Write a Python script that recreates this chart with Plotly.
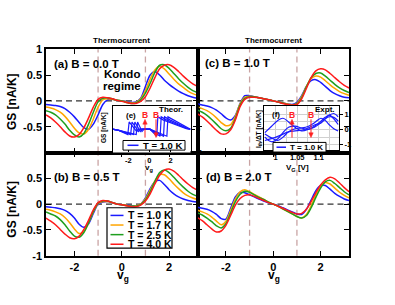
import plotly.graph_objects as go

# ---------------- data ----------------
VG = [-3.2, -3.0, -2.8, -2.6, -2.4, -2.2, -2.0, -1.8, -1.6, -1.4, -1.2, -1.0, -0.8, -0.6, -0.4, -0.2,
      0.0, 0.2, 0.4, 0.6, 0.8, 1.0, 1.2, 1.4, 1.6, 1.8, 2.0, 2.2, 2.4, 2.6, 2.8, 3.0, 3.2]
TEMPS = ["T = 1.0 K", "T = 1.7 K", "T = 2.5 K", "T = 4.0 K"]
COLORS = ["#1a1aff", "#ffa500", "#1f9f1f", "#ff1a1a"]

# panel (a) B = 0.0 T
A_T10 = [-0.07, -0.08, -0.09, -0.11, -0.15, -0.22, -0.31, -0.42, -0.52, -0.55, -0.45, -0.27, -0.07, 0.02, 0.03, 0.01,
         0.00, -0.01, -0.03, -0.02, 0.05, 0.28, 0.50, 0.57, 0.50, 0.40, 0.32, 0.25, 0.19, 0.14, 0.10, 0.07, 0.05]
A_T17 = [-0.12, -0.14, -0.17, -0.22, -0.30, -0.41, -0.53, -0.62, -0.64, -0.55, -0.35, -0.12, 0.02, 0.04, 0.03, 0.01,
         0.00, -0.02, -0.04, -0.03, 0.04, 0.20, 0.42, 0.60, 0.67, 0.62, 0.52, 0.42, 0.33, 0.26, 0.19, 0.14, 0.11]
A_T25 = [-0.19, -0.22, -0.27, -0.35, -0.45, -0.57, -0.66, -0.70, -0.63, -0.45, -0.22, -0.02, 0.05, 0.06, 0.04, 0.01,
         0.00, -0.03, -0.05, -0.04, 0.02, 0.15, 0.34, 0.55, 0.69, 0.70, 0.63, 0.53, 0.43, 0.34, 0.26, 0.20, 0.16]
A_T40 = [-0.27, -0.33, -0.41, -0.50, -0.60, -0.68, -0.70, -0.65, -0.52, -0.33, -0.12, 0.03, 0.07, 0.06, 0.04, 0.01,
         -0.01, -0.03, -0.05, -0.05, -0.01, 0.08, 0.25, 0.45, 0.62, 0.69, 0.70, 0.65, 0.57, 0.48, 0.40, 0.33, 0.28]

# panel (b) B = 0.5 T
B_T10 = [-0.05, -0.06, -0.07, -0.09, -0.12, -0.18, -0.27, -0.39, -0.45, -0.38, -0.18, 0.00, 0.04, 0.05, 0.03, 0.00,
         -0.01, -0.02, -0.03, -0.03, 0.00, 0.12, 0.30, 0.43, 0.46, 0.38, 0.28, 0.20, 0.14, 0.10, 0.07, 0.05, 0.04]
B_T17 = [-0.10, -0.12, -0.15, -0.19, -0.26, -0.36, -0.48, -0.57, -0.53, -0.36, -0.15, 0.01, 0.05, 0.05, 0.03, 0.00,
         -0.01, -0.02, -0.04, -0.03, 0.00, 0.10, 0.27, 0.45, 0.57, 0.57, 0.49, 0.39, 0.30, 0.22, 0.16, 0.12, 0.09]
B_T25 = [-0.15, -0.19, -0.23, -0.30, -0.40, -0.52, -0.62, -0.64, -0.55, -0.36, -0.14, 0.02, 0.06, 0.06, 0.03, 0.00,
         -0.01, -0.03, -0.04, -0.04, -0.01, 0.08, 0.24, 0.44, 0.61, 0.66, 0.61, 0.52, 0.42, 0.33, 0.25, 0.19, 0.15]
B_T40 = [-0.27, -0.33, -0.40, -0.49, -0.58, -0.65, -0.67, -0.62, -0.49, -0.31, -0.11, 0.03, 0.07, 0.06, 0.03, 0.00,
         -0.01, -0.03, -0.05, -0.05, -0.02, 0.06, 0.20, 0.39, 0.56, 0.66, 0.68, 0.64, 0.56, 0.47, 0.39, 0.32, 0.27]

# panel (c) B = 1.0 T
C_T10 = [-0.06, -0.08, -0.10, -0.13, -0.18, -0.25, -0.33, -0.37, -0.28, -0.05, 0.10, 0.10, 0.08, 0.06, 0.04, 0.02,
         0.00, -0.02, -0.04, -0.06, -0.07, -0.03, 0.10, 0.28, 0.39, 0.41, 0.36, 0.28, 0.20, 0.14, 0.10, 0.07, 0.06]
C_T17 = [-0.12, -0.15, -0.19, -0.25, -0.33, -0.42, -0.48, -0.46, -0.30, -0.06, 0.07, 0.09, 0.08, 0.06, 0.04, 0.02,
         0.00, -0.02, -0.04, -0.06, -0.08, -0.05, 0.08, 0.28, 0.43, 0.48, 0.46, 0.39, 0.31, 0.24, 0.18, 0.14, 0.11]
C_T25 = [-0.18, -0.22, -0.28, -0.36, -0.45, -0.54, -0.58, -0.53, -0.34, -0.08, 0.05, 0.08, 0.08, 0.06, 0.04, 0.02,
         0.00, -0.02, -0.04, -0.07, -0.08, -0.06, 0.06, 0.27, 0.45, 0.53, 0.54, 0.48, 0.40, 0.32, 0.25, 0.20, 0.16]
C_T40 = [-0.25, -0.31, -0.39, -0.48, -0.57, -0.64, -0.64, -0.56, -0.37, -0.11, 0.03, 0.07, 0.07, 0.06, 0.04, 0.02,
         0.00, -0.02, -0.05, -0.07, -0.08, -0.07, 0.04, 0.24, 0.45, 0.58, 0.62, 0.60, 0.53, 0.45, 0.37, 0.30, 0.25]

# panel (d) B = 2.0 T
D_T10 = [-0.06, -0.08, -0.10, -0.14, -0.20, -0.28, -0.29, -0.08, 0.14, 0.23, 0.22, 0.18, 0.14, 0.10, 0.06, 0.03,
         0.00, -0.03, -0.07, -0.11, -0.15, -0.19, -0.20, -0.10, 0.08, 0.26, 0.36, 0.36, 0.29, 0.21, 0.15, 0.10, 0.07]
D_T17 = [-0.12, -0.15, -0.19, -0.25, -0.33, -0.40, -0.33, -0.12, 0.10, 0.24, 0.28, 0.24, 0.19, 0.14, 0.09, 0.04,
         0.00, -0.04, -0.09, -0.14, -0.19, -0.24, -0.27, -0.20, -0.03, 0.18, 0.34, 0.42, 0.39, 0.31, 0.23, 0.17, 0.12]
D_T25 = [-0.17, -0.21, -0.27, -0.34, -0.42, -0.46, -0.38, -0.17, 0.05, 0.19, 0.25, 0.23, 0.18, 0.13, 0.09, 0.04,
         0.00, -0.04, -0.09, -0.14, -0.19, -0.24, -0.27, -0.22, -0.07, 0.13, 0.31, 0.43, 0.46, 0.40, 0.32, 0.24, 0.18]
D_T40 = [-0.26, -0.32, -0.40, -0.48, -0.54, -0.52, -0.41, -0.22, -0.02, 0.11, 0.17, 0.18, 0.15, 0.11, 0.07, 0.03,
         0.00, -0.04, -0.08, -0.12, -0.16, -0.19, -0.18, -0.10, 0.05, 0.22, 0.37, 0.47, 0.52, 0.49, 0.41, 0.32, 0.24]

# inset (e) theory, T = 1.0 K, several fields
E_Y = [0.0, -0.05, -0.23, 0.31, -0.1, 0.0, 0.0, -0.3, 0.53, 0.4, 0.02, 0.0]
E_X1 = [-3.5, -2.9, -2.05, -1.92, -1.2, -1.0, 0.05, 0.7, 0.8, 1.3, 3.5, 3.9]
E_X2 = [-3.5, -2.9, -1.78, -1.65, -1.03, -0.83, 0.05, 1.02, 1.12, 1.62, 3.6, 3.9]
E_X3 = [-3.5, -2.9, -1.51, -1.38, -0.86, -0.66, 0.05, 1.34, 1.44, 1.94, 3.7, 3.9]
E_X4 = [-3.5, -2.9, -1.25, -1.12, -0.7, -0.5, 0.05, 1.66, 1.76, 2.26, 3.8, 3.9]

# inset (f) experiment, T = 1.0 K
F_X = [0.975, 0.99, 1.005, 1.017, 1.03, 1.045, 1.06, 1.075, 1.09, 1.105, 1.115, 1.125, 1.135, 1.145]
F_Y1 = [-0.2, 0.2, 0.6, 0.74, 0.5, 0.15, -0.09, 0.0, 0.22, 0.55, 0.8, 0.95, 0.7, 0.33]
F_Y2 = [-0.5, -0.8, -0.6, -0.2, 0.15, 0.22, 0.1, 0.01, 0.15, 0.45, 0.7, 0.84, 0.8, 0.56]
F_Y3 = [-0.3, -0.55, -0.72, -0.5, -0.15, 0.05, 0.1, 0.2, 0.45, 0.74, 0.6, 0.3, 0.05, -0.1]
F_Y4 = [-0.72, -0.6, -0.45, -0.3, -0.15, -0.09, -0.05, 0.1, 0.3, 0.43, 0.7, 0.95, 1.05, 0.84]

W, H = 395, 305
FONT = "Liberation Sans"


def PX(x):
    return x / W


def PY(y):
    return 1 - y / H


fig = go.Figure()

panels = [("x", "y", [A_T10, A_T17, A_T25, A_T40]),
          ("x2", "y2", [B_T10, B_T17, B_T25, B_T40]),
          ("x3", "y3", [C_T10, C_T17, C_T25, C_T40]),
          ("x4", "y4", [D_T10, D_T17, D_T25, D_T40])]
for xr, yr, series in panels:
    for name, col, ys in zip(TEMPS, COLORS, series):
        fig.add_trace(go.Scatter(x=VG, y=ys, mode="lines", name=name, xaxis=xr, yaxis=yr,
                                 line=dict(color=col, width=1.5, shape="spline", smoothing=0.8),
                                 showlegend=False))

for ex in [E_X1, E_X2, E_X3, E_X4]:
    fig.add_trace(go.Scatter(x=ex, y=E_Y, mode="lines", name="T = 1.0 K", xaxis="x5", yaxis="y5",
                             line=dict(color="#1a1aff", width=1.2), showlegend=False))
for fy in [F_Y1, F_Y2, F_Y3, F_Y4]:
    fig.add_trace(go.Scatter(x=F_X, y=fy, mode="lines", name="T = 1.0 K", xaxis="x6", yaxis="y6",
                             line=dict(color="#1a1aff", width=1.2, shape="spline"), showlegend=False))

L0, MID, R1 = PX(46), PX(197.5), PX(349)
T0, YM, B1 = PY(45), PY(152.5), PY(260)

tickfont = dict(family=FONT, size=11, color="black", weight="bold")
base = dict(showline=True, linecolor="black", linewidth=1.5, mirror="ticks", ticks="inside",
            ticklen=5, tickwidth=1.2, tickcolor="black", showgrid=False, zeroline=False,
            tickfont=tickfont)
xbase = dict(base, range=[-3.2, 3.2], tickvals=[-2, 0, 2], ticktext=["-2", "0", "2"])
fig.update_layout(
    xaxis=dict(xbase, domain=[L0, MID], anchor="y", showticklabels=False),
    yaxis=dict(base, domain=[YM, T0], anchor="x", range=[-1, 1], tickvals=[-0.5, 0, 0.5, 1],
               ticktext=["-0.5", "0", "0.5", "1"]),
    xaxis2=dict(xbase, domain=[L0, MID], anchor="y2"),
    yaxis2=dict(base, domain=[B1, YM], anchor="x2", range=[-1, 1], tickvals=[-1, -0.5, 0, 0.5],
                ticktext=["-1", "-0.5", "0", "0.5"]),
    xaxis3=dict(xbase, domain=[MID, R1], anchor="y3", showticklabels=False),
    yaxis3=dict(base, domain=[YM, T0], anchor="x3", range=[-1, 1], tickvals=[-0.5, 0, 0.5, 1],
                showticklabels=False),
    xaxis4=dict(xbase, domain=[MID, R1], anchor="y4"),
    yaxis4=dict(base, domain=[B1, YM], anchor="x4", range=[-1, 1], tickvals=[-1, -0.5, 0, 0.5],
                showticklabels=False),
)

small = dict(family=FONT, size=7.5, color="black", weight="bold")
inset_base = dict(showline=True, linecolor="black", linewidth=1.2, mirror=True, ticks="inside",
                  ticklen=3, tickwidth=1, tickcolor="black", zeroline=False, tickfont=small)
fig.update_layout(
    xaxis5=dict(inset_base, domain=[PX(112.5), PX(190.5)], anchor="y5", range=[-3.5, 3.9],
                tickvals=[-2, 0, 2], ticktext=["-2", "0", "2"], showgrid=False),
    yaxis5=dict(inset_base, domain=[PY(152.5), PY(104)], anchor="x5", range=[-1, 1], side="right",
                tickvals=[-1, 0, 1], ticktext=["-1", "0", "1"], showgrid=False, ticks="outside"),
    xaxis6=dict(inset_base, domain=[PX(264), PX(339)], anchor="y6", range=[0.973, 1.147],
                tickvals=[1.0, 1.05, 1.1], ticktext=["1", "1.05", "1.1"], showgrid=True,
                gridcolor="#d0d0d0", gridwidth=0.8,
                minor=dict(dtick=0.025, showgrid=True, gridcolor="#d0d0d0", gridwidth=0.8)),
    yaxis6=dict(inset_base, domain=[PY(150), PY(104)], anchor="x6", range=[-1.35, 1.55], side="right",
                tickvals=[-1, 0, 1], ticktext=["-1", "0", "1"], showgrid=True,
                gridcolor="#d0d0d0", gridwidth=0.8, ticks="outside",
                minor=dict(dtick=0.5, showgrid=True, gridcolor="#d0d0d0", gridwidth=0.8)),
)

shapes = []
for xr, yr in [("x", "y"), ("x2", "y2"), ("x3", "y3"), ("x4", "y4"), ("x5", "y5")]:
    for v in (-1, 1):
        shapes.append(dict(type="line", xref=xr, yref=yr + " domain", x0=v, x1=v, y0=0, y1=1,
                           line=dict(color="#c9a3a3", width=1.3, dash="6px,4px"), layer="below"))
    shapes.append(dict(type="line", xref=xr + " domain", yref=yr, x0=0, x1=1, y0=0, y1=0,
                       line=dict(color="#333333", width=1.3, dash="6px,4px"), layer="below"))

# manual legends (boxes and samples)
shapes.append(dict(type="rect", xref="paper", yref="paper", x0=PX(107), x1=PX(172), y0=PY(252), y1=PY(210),
                   line=dict(color="black", width=1.2), fillcolor="white", layer="above"))
LEG_Y = [218, 228, 238, 248]
for ly, col in zip(LEG_Y, COLORS):
    shapes.append(dict(type="line", xref="paper", yref="paper", x0=PX(110.5), x1=PX(123.5), y0=PY(ly), y1=PY(ly),
                       line=dict(color=col, width=1.5), layer="above"))
shapes.append(dict(type="rect", xref="paper", yref="paper", x0=PX(123), x1=PX(185), y0=PY(150), y1=PY(140),
                   line=dict(color="black", width=1), fillcolor="white", layer="above"))
shapes.append(dict(type="line", xref="paper", yref="paper", x0=PX(127.5), x1=PX(138.5), y0=PY(145), y1=PY(145),
                   line=dict(color="#1a1aff", width=1.5), layer="above"))
shapes.append(dict(type="rect", xref="paper", yref="paper", x0=PX(273), x1=PX(326), y0=PY(152), y1=PY(142),
                   line=dict(color="black", width=1), fillcolor="white", layer="above"))
shapes.append(dict(type="line", xref="paper", yref="paper", x0=PX(276.5), x1=PX(286), y0=PY(147), y1=PY(147),
                   line=dict(color="#1a1aff", width=1.5), layer="above"))

# red field arrows (x, head y, tail y) drawn as line + triangular head
RED = "#ff2020"
for (x, yh, yt) in [(145, 118, 137), (156, 137, 118), (292, 118, 137), (311, 137, 118)]:
    sgn = 1 if yt > yh else -1
    shapes.append(dict(type="line", xref="paper", yref="paper", x0=PX(x), x1=PX(x),
                       y0=PY(yt), y1=PY(yh + sgn * 3), line=dict(color=RED, width=1), layer="above"))
    path = "M {:.5f},{:.5f} L {:.5f},{:.5f} L {:.5f},{:.5f} Z".format(
        PX(x), PY(yh), PX(x - 2.2), PY(yh + sgn * 5), PX(x + 2.2), PY(yh + sgn * 5))
    shapes.append(dict(type="path", xref="paper", yref="paper", path=path,
                       fillcolor=RED, line=dict(color=RED, width=0.5), layer="above"))

ann = []


def text(x, y, s, size, xanchor="center", color="black", angle=0, bold=True):
    ann.append(dict(xref="paper", yref="paper", x=PX(x), y=PY(y), text=s, showarrow=False,
                    xanchor=xanchor, yanchor="middle", textangle=angle,
                    font=dict(family=FONT, size=size, color=color, weight="bold" if bold else "normal")))


text(122, 36, "Thermocurrent", 8)
text(273, 36, "Thermocurrent", 8)
text(52, 60, "(a) B = 0.0 T", 11.5, "left")
text(122, 71, "Kondo", 11.5)
text(122, 83, "regime", 11.5)
text(52, 178, "(b) B = 0.5 T", 11.5, "left")
text(203, 59, "(c) B = 1.0 T", 11.5, "left")
text(204, 178, "(d) B = 2.0 T", 11.5, "left")
text(12, 100, "GS [nA/K]", 12, angle=-90)
text(12, 212, "GS [nA/K]", 12, angle=-90)
text(123, 281, "v<sub>g</sub>", 12)
text(274, 281, "v<sub>g</sub>", 12)
for ly, name in zip(LEG_Y, TEMPS):
    text(126, ly, name, 10.5, "left")
# inset e texts
text(124, 114, "(e)", 8, "left")
text(185, 108, "Theor.", 8, "right")
text(141, 145, "T = 1.0 K", 9.5, "left")
text(104, 127, "GS [nA/K]", 6.5, angle=-90)
text(149, 169, "v<sub>g</sub>", 8)
text(145, 113, "B", 8.5, color=RED)
text(156, 113, "B", 8.5, color=RED)
# inset f texts
text(270, 113, "(f)", 8, "left")
text(337, 108, "Expt.", 8, "right")
text(288, 147, "T = 1.0 K", 8, "left")
text(259, 128, "I<sub>th</sub>/ΔT [nA/K]", 6.5, angle=-90)
text(297, 169, "V<sub>G</sub> [V]", 8)
text(292, 113, "B", 8.5, color=RED)
text(311, 113, "B", 8.5, color=RED)

fig.update_layout(width=W, height=H, margin=dict(l=0, r=0, t=0, b=0),
                  paper_bgcolor="white", plot_bgcolor="white", showlegend=False,
                  shapes=shapes, annotations=ann,
                  font=dict(family=FONT, size=11, color="black"))

fig.write_html("out.html", config={"displayModeBar": False},
               post_script="document.body.style.margin='0px';")
